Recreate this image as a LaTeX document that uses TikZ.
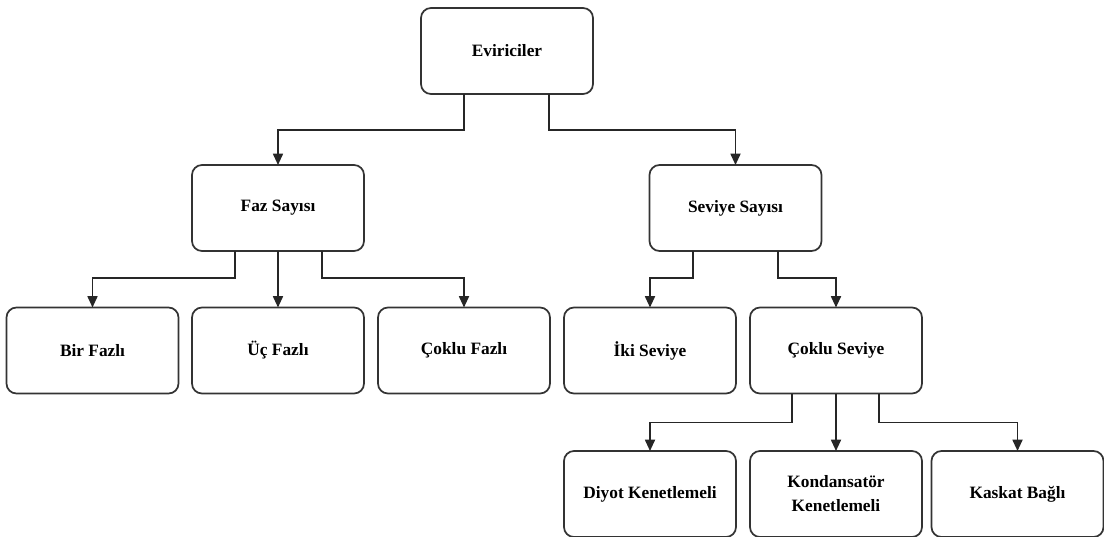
\documentclass[tikz,border=0pt]{standalone}
\usepackage{fontspec}
\setmainfont{Liberation Serif}
\usetikzlibrary{arrows.meta,calc}
\tikzset{
  box/.style={draw=black!80, line width=1.3pt, rounded corners=7.5pt, minimum width=129pt, minimum height=64.5pt,
    inner sep=0pt, outer sep=0pt, align=center, font=\fontsize{13}{18}\selectfont\bfseries},
  conn/.style={draw=black!85, line width=1.3pt, -{Triangle[length=8.5pt,width=7.5pt]}}
}
\begin{document}
\begin{tikzpicture}[x=0.75pt,y=-0.75pt]
\useasboundingbox (0,0) rectangle (1104,536);
\node[box] (ev) at (507,51) {Eviriciler};
\node[box] (faz) at (278,208) {Faz Sayısı};
\node[box] (sev) at (735.5,208) {Seviye Sayısı};
\node[box] (bir) at (92.5,350.5) {Bir Fazlı};
\node[box] (uc) at (278,350.5) {Üç Fazlı};
\node[box] (cokfaz) at (464,350.5) {Çoklu Fazlı};
\node[box] (iki) at (650,350.5) {İki Seviye};
\node[box] (coksev) at (836,350.5) {Çoklu Seviye};
\node[box] (diyot) at (650,494) {Diyot Kenetlemeli};
\node[box] (kond) at (836,494) {Kondansatör\\Kenetlemeli};
\node[box] (kas) at (1017.5,494) {Kaskat Bağlı};

\draw[conn] ($(ev.south)+(-43,0)$) -- ++(0,36) -| (faz.north);
\draw[conn] ($(ev.south)+(42,0)$) -- ++(0,36) -| (sev.north);

\draw[conn] ($(faz.south)+(-43,0)$) -- ++(0,27) -| (bir.north);
\draw[conn] (faz.south) -- (uc.north);
\draw[conn] ($(faz.south)+(44,0)$) -- ++(0,27) -| (cokfaz.north);

\draw[conn] ($(sev.south)+(-42.5,0)$) -- ++(0,27) -| (iki.north);
\draw[conn] ($(sev.south)+(42.5,0)$) -- ++(0,27) -| (coksev.north);

\draw[conn] ($(coksev.south)+(-44,0)$) -- ++(0,29) -| (diyot.north);
\draw[conn] (coksev.south) -- (kond.north);
\draw[conn] ($(coksev.south)+(43,0)$) -- ++(0,29) -| (kas.north);
\end{tikzpicture}
\end{document}
